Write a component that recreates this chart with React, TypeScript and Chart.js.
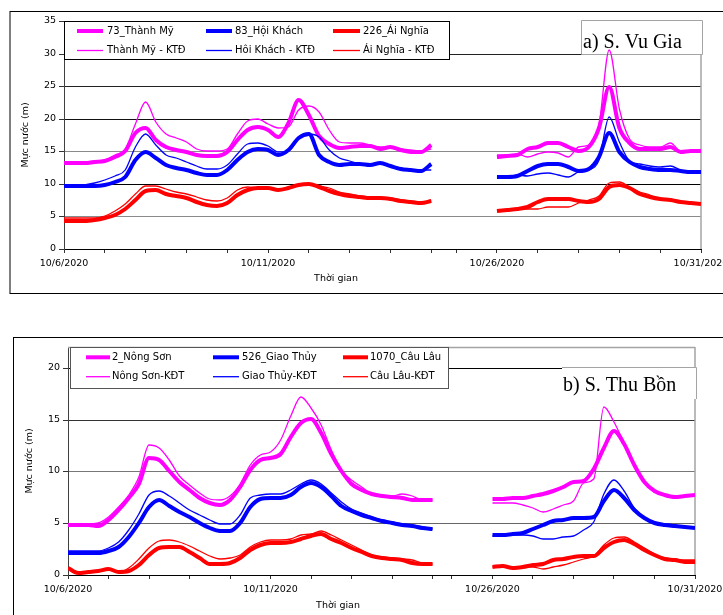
import React, { useEffect, useRef } from "react";
import { Chart, registerables } from "chart.js";

Chart.register(...registerables);

// ---------- sampling times (days) ----------
const LEFT_T = [0, 0.25, 0.5, 0.75, 1, 1.25, 1.5, 1.75, 2, 2.25, 2.5, 2.75, 3, 3.25, 3.5, 3.75, 4, 4.25, 4.5, 4.75, 5, 5.25, 5.5, 5.75, 6, 6.25, 6.5, 6.75, 7, 7.25, 7.5, 7.75, 8, 8.25, 8.5, 8.75, 9];
const RIGHT_T = [0, 0.25, 0.5, 0.75, 1, 1.25, 1.5, 1.75, 2, 2.25, 2.5, 2.75, 3, 3.25, 3.5, 3.75, 4, 4.25, 4.5, 4.75, 5];

// tick positions (days) in each segment
const LEFT_TICKS = [0, 1, 2, 3, 4, 5, 6, 7, 8, 9];
const RIGHT_TICKS = [-1, 0, 1, 2, 3, 4, 5];
const LEFT_DATE_LABELS = ["10/6/2020", "10/11/2020"];
const RIGHT_DATE_LABELS = ["10/26/2020", "10/31/2020"];

// ---------- a) S. Vu Gia ----------
const A_LABELS = ["73_Thành Mỹ", "83_Hội Khách", "226_Ái Nghĩa", "Thành Mỹ - KTĐ", "Hôi Khách - KTĐ", "Ái Nghĩa - KTĐ"];
const A_TM_L = [13.2, 13.2, 13.2, 13.3, 13.5, 14.1, 15.0, 17.8, 18.6, 16.8, 15.6, 15.2, 14.9, 14.5, 14.2, 14.2, 14.9, 16.7, 18.2, 18.8, 18.3, 17.2, 19.3, 22.9, 20.5, 17.4, 16.1, 15.5, 15.7, 15.8, 15.8, 15.4, 15.7, 15.2, 14.9, 14.9, 16.0];
const A_TMK_L = [13.4, 13.4, 13.4, 13.5, 13.7, 14.4, 15.3, 19.2, 22.6, 19.5, 17.6, 17.1, 16.4, 15.3, 15.0, 15.0, 15.4, 17.7, 19.7, 20.0, 19.2, 18.6, 18.8, 21.3, 22.0, 21.0, 18.2, 16.4, 16.2, 16.2, 15.9, 15.7, 15.7, 15.4, 15.2, 15.0, 15.3];
const A_HK_L = [9.6, 9.6, 9.6, 9.7, 9.9, 10.3, 11.0, 13.6, 14.9, 13.9, 12.9, 12.5, 12.1, 11.6, 11.3, 11.3, 12.1, 13.6, 14.9, 15.3, 15.2, 14.4, 15.2, 17.0, 17.6, 14.4, 13.4, 12.9, 13.0, 13.0, 12.9, 13.2, 12.7, 12.3, 12.1, 12.0, 13.0];
const A_HKK_L = [9.7, 9.7, 9.8, 10.1, 10.6, 11.2, 12.1, 15.7, 17.7, 15.9, 14.4, 13.9, 13.4, 12.7, 12.3, 12.3, 12.9, 14.6, 16.1, 16.3, 15.8, 14.9, 15.0, 16.9, 17.7, 17.2, 15.2, 13.9, 13.5, 13.1, 13.0, 13.0, 12.7, 12.5, 12.2, 12.1, 12.1];
const A_AN_L = [4.3, 4.3, 4.3, 4.4, 4.7, 5.2, 6.1, 7.5, 8.9, 9.0, 8.5, 8.1, 7.8, 7.2, 6.7, 6.6, 7.0, 8.3, 9.0, 9.3, 9.3, 9.0, 9.3, 9.8, 10.0, 9.5, 8.9, 8.4, 8.1, 8.0, 7.9, 7.9, 7.6, 7.4, 7.2, 7.1, 7.3];
const A_ANK_L = [4.7, 4.7, 4.7, 4.8, 5.1, 5.9, 6.9, 8.5, 9.6, 9.7, 9.2, 8.8, 8.4, 8.0, 7.5, 7.3, 7.9, 9.1, 9.5, 9.4, 9.4, 9.1, 9.3, 9.8, 10.0, 9.7, 9.3, 8.8, 8.4, 8.2, 8.0, 7.9, 7.8, 7.5, 7.3, 7.2, 7.3];
const A_TM_R = [14.1, 14.2, 14.4, 15.4, 15.7, 16.2, 16.2, 15.7, 15.1, 15.7, 18.5, 24.9, 18.5, 16.3, 15.4, 15.4, 15.4, 15.7, 14.9, 15.0, 15.1];
const A_TMK_R = [14.4, 14.4, 14.6, 14.1, 14.6, 14.9, 14.7, 14.1, 15.6, 15.9, 19.0, 30.5, 21.5, 16.9, 15.9, 15.6, 15.6, 16.2, 15.0, 15.0, 15.1];
const A_HK_R = [11.1, 11.1, 11.2, 12.0, 12.7, 13.0, 13.0, 12.6, 12.0, 12.3, 14.1, 17.8, 14.9, 13.4, 12.6, 12.3, 12.2, 12.2, 12.0, 11.8, 11.8];
const A_HKK_R = [11.1, 11.1, 11.3, 11.2, 11.5, 11.6, 11.3, 11.1, 11.8, 12.2, 13.6, 20.3, 16.5, 13.5, 13.0, 12.7, 12.6, 12.7, 12.1, 11.8, 11.8];
const A_AN_R = [5.9, 6.0, 6.1, 6.5, 7.2, 7.6, 7.7, 7.6, 7.4, 7.2, 7.7, 9.5, 9.8, 9.3, 8.5, 8.0, 7.6, 7.5, 7.2, 7.0, 6.9];
const A_ANK_R = [5.9, 6.0, 6.1, 6.1, 6.2, 6.5, 6.5, 6.5, 7.0, 7.5, 8.2, 10.1, 10.3, 9.5, 8.8, 8.3, 7.7, 7.6, 7.2, 7.0, 6.9];
const A_Y_TICKS = [0, 5, 10, 15, 20, 25, 30, 35];

// ---------- b) S. Thu Bồn ----------
const B_LABELS = ["2_Nông Sơn", "526_Giao Thủy", "1070_Câu Lâu", "Nông Sơn-KĐT", "Giao Thủy-KĐT", "Câu Lâu-KĐT"];
const B_NS_L = [4.8, 4.8, 4.8, 4.7, 5.3, 6.3, 7.4, 8.8, 11.3, 11.1, 10.0, 9.0, 8.2, 7.4, 6.9, 6.8, 7.2, 8.5, 10.1, 11.1, 11.3, 11.7, 13.3, 14.7, 15.1, 13.7, 11.7, 10.0, 8.8, 8.2, 7.8, 7.6, 7.5, 7.4, 7.2, 7.2, 7.2];
const B_NSK_L = [4.8, 4.8, 4.9, 5.0, 5.6, 6.6, 7.7, 9.5, 12.5, 12.3, 11.1, 9.6, 8.7, 7.9, 7.3, 7.2, 7.6, 8.8, 10.6, 11.6, 11.9, 13.0, 15.3, 17.2, 16.1, 14.5, 12.1, 10.1, 9.2, 8.5, 7.8, 7.6, 7.6, 7.8, 7.6, 7.2, 7.2];
const B_GT_L = [2.1, 2.1, 2.1, 2.1, 2.3, 2.7, 3.7, 5.0, 6.6, 7.2, 6.7, 6.1, 5.6, 5.0, 4.5, 4.2, 4.2, 5.0, 6.6, 7.3, 7.4, 7.4, 7.7, 8.5, 8.9, 8.5, 7.6, 6.7, 6.2, 5.8, 5.5, 5.2, 5.0, 4.8, 4.7, 4.5, 4.4];
const B_GTK_L = [2.3, 2.3, 2.3, 2.3, 2.6, 3.2, 4.3, 5.9, 7.7, 8.1, 7.6, 6.9, 6.3, 5.8, 5.3, 4.9, 4.9, 5.8, 7.4, 7.7, 7.8, 7.8, 8.2, 8.8, 9.2, 8.8, 7.9, 7.0, 6.4, 6.0, 5.6, 5.3, 5.1, 4.9, 4.8, 4.6, 4.4];
const B_CL_L = [0.7, 0.15, 0.3, 0.35, 0.6, 0.25, 0.4, 1.0, 1.9, 2.6, 2.75, 2.7, 2.2, 1.6, 1.1, 1.1, 1.2, 1.6, 2.4, 2.9, 3.1, 3.1, 3.2, 3.5, 3.8, 4.0, 3.5, 3.1, 2.6, 2.2, 1.8, 1.6, 1.5, 1.4, 1.2, 1.1, 1.1];
const B_CLK_L = [0.7, 0.2, 0.3, 0.4, 0.6, 0.3, 0.7, 1.5, 2.6, 3.3, 3.4, 3.2, 2.8, 2.3, 1.8, 1.5, 1.6, 1.9, 2.7, 3.2, 3.4, 3.4, 3.5, 3.9, 4.0, 4.2, 3.9, 3.4, 2.9, 2.4, 1.9, 1.7, 1.6, 1.5, 1.4, 1.2, 1.1];
const B_NS_R = [7.3, 7.3, 7.4, 7.4, 7.6, 7.8, 8.1, 8.5, 9.0, 9.1, 10.2, 12.3, 13.9, 12.6, 10.6, 9.0, 8.1, 7.7, 7.5, 7.6, 7.7];
const B_NSK_R = [6.9, 6.9, 6.9, 6.8, 6.5, 6.1, 6.4, 6.8, 7.1, 8.9, 9.3, 16.2, 14.8, 12.7, 10.8, 9.1, 8.1, 7.7, 7.5, 7.6, 7.7];
const B_GT_R = [3.9, 3.9, 4.0, 4.1, 4.4, 4.8, 5.2, 5.3, 5.5, 5.5, 5.6, 7.1, 8.2, 7.4, 6.3, 5.5, 5.0, 4.8, 4.7, 4.6, 4.5];
const B_GTK_R = [3.8, 3.9, 3.9, 3.9, 3.8, 3.5, 3.5, 3.7, 3.8, 4.3, 5.1, 7.8, 9.2, 8.1, 6.5, 5.5, 5.1, 4.9, 4.8, 4.6, 4.5];
const B_CL_R = [0.8, 0.9, 0.7, 0.8, 1.0, 1.1, 1.4, 1.5, 1.7, 1.8, 1.8, 2.6, 3.2, 3.4, 3.0, 2.4, 1.9, 1.5, 1.4, 1.3, 1.3];
const B_CLK_R = [0.8, 0.9, 0.7, 0.8, 0.8, 0.6, 0.8, 1.0, 1.3, 1.5, 1.8, 2.9, 3.6, 3.7, 3.2, 2.6, 2.0, 1.6, 1.5, 1.4, 1.4];
const B_Y_TICKS = [0, 5, 10, 15, 20];

const MAGENTA = "#FF00FF";
const BLUE = "#0000FF";
const RED = "#FF0000";
const FONT = "'DejaVu Sans', sans-serif";

type Series = { label: string; color: string; width: number; left: number[]; right: number[] };

function buildPoints(left: number[], right: number[], rs: number) {
  const pts: { x: number; y: number | null }[] = LEFT_T.map((t, i) => ({ x: t, y: left[i] }));
  pts.push({ x: (9 + rs) / 2, y: null });
  RIGHT_T.forEach((t, i) => pts.push({ x: rs + t, y: right[i] }));
  return pts;
}

const PANEL_A = {
  canvasTop: 0,
  height: 300,
  yMax: 35,
  yTicks: A_Y_TICKS,
  rs: 10.61,
  padTop: 21,
  padRight: 22,
  yWidth: 64,
  xHeight: 51,
  gridColor: { 5: "#8a8a8a", 10: "#000", 15: "#8a8a8a", 20: "#111", 25: "#222", 30: "#222" } as Record<number, string>,
  series: [
    { label: A_LABELS[0], color: MAGENTA, width: 4, left: A_TM_L, right: A_TM_R },
    { label: A_LABELS[1], color: BLUE, width: 4, left: A_HK_L, right: A_HK_R },
    { label: A_LABELS[2], color: RED, width: 4, left: A_AN_L, right: A_AN_R },
    { label: A_LABELS[3], color: MAGENTA, width: 1.3, left: A_TMK_L, right: A_TMK_R },
    { label: A_LABELS[4], color: BLUE, width: 1.3, left: A_HKK_L, right: A_HKK_R },
    { label: A_LABELS[5], color: RED, width: 1.3, left: A_ANK_L, right: A_ANK_R },
  ] as Series[],
  legendBox: { x: 64, y: 21, w: 385, h: 38, color: "#000" },
  legendCols: [
    { x1: 77, x2: 103, tx: 107 },
    { x1: 206, x2: 232, tx: 235 },
    { x1: 333, x2: 360, tx: 363 },
  ],
  legendRows: [31, 50.5],
  titleBox: { x: 581, y: 20, w: 121, h: 34, sides: "all" },
  titleText: "a) S. Vu Gia",
  titlePos: { x: 583, y: 48 },
  frame: { x: 10, y: 11.5, w: 740, h: 282 },
  plotTopBorder: false,
  rightBorderTop: 54,
  yTitle: { x: 26, y: 135 },
  xTitle: { x: 336, y: 279 },
};

const PANEL_B = {
  canvasTop: 300,
  height: 315,
  yMax: 22,
  yTicks: B_Y_TICKS,
  rs: 10.48,
  padTop: 47,
  padRight: 28,
  yWidth: 68,
  xHeight: 40,
  gridColor: { 5: "#666", 10: "#777", 15: "#333", 20: "#000" } as Record<number, string>,
  series: [
    { label: B_LABELS[0], color: MAGENTA, width: 4, left: B_NS_L, right: B_NS_R },
    { label: B_LABELS[1], color: BLUE, width: 4, left: B_GT_L, right: B_GT_R },
    { label: B_LABELS[2], color: RED, width: 4, left: B_CL_L, right: B_CL_R },
    { label: B_LABELS[3], color: MAGENTA, width: 1.3, left: B_NSK_L, right: B_NSK_R },
    { label: B_LABELS[4], color: BLUE, width: 1.3, left: B_GTK_L, right: B_GTK_R },
    { label: B_LABELS[5], color: RED, width: 1.3, left: B_CLK_L, right: B_CLK_R },
  ] as Series[],
  legendBox: { x: 70, y: 47, w: 378, h: 41, color: "#555" },
  legendCols: [
    { x1: 86, x2: 110, tx: 112 },
    { x1: 213, x2: 239, tx: 242 },
    { x1: 343, x2: 368, tx: 370 },
  ],
  legendRows: [57.3, 76.7],
  titleBox: { x: 562, y: 67, w: 134, h: 32, sides: "tr" },
  titleText: "b) S. Thu Bồn",
  titlePos: { x: 563, y: 91 },
  frame: { x: 13.5, y: 37.5, w: 740, h: 400 },
  plotTopBorder: true,
  rightBorderTop: 47,
  yTitle: { x: 30, y: 161 },
  xTitle: { x: 338, y: 305.5 },
};

type PanelCfg = typeof PANEL_A;

function decorPlugin(cfg: PanelCfg) {
  return {
    id: "decor",
    beforeDatasetsDraw(chart: any) {
      const ctx: CanvasRenderingContext2D = chart.ctx;
      const a = chart.chartArea;
      ctx.save();
      // plot-area border (top / right)
      ctx.strokeStyle = "#a4a4a4";
      ctx.lineWidth = 1.5;
      ctx.beginPath();
      if (cfg.plotTopBorder) {
        ctx.moveTo(a.left, a.top + 0.5);
        ctx.lineTo(a.right, a.top + 0.5);
      }
      ctx.moveTo(a.right, cfg.rightBorderTop);
      ctx.lineTo(a.right, a.bottom);
      ctx.stroke();

      // legend
      const lb = cfg.legendBox;
      ctx.fillStyle = "#fff";
      ctx.fillRect(lb.x, lb.y, lb.w, lb.h);
      ctx.strokeStyle = lb.color;
      ctx.lineWidth = 1;
      ctx.strokeRect(lb.x + 0.5, lb.y + 0.5, lb.w, lb.h);
      const ds = chart.data.datasets;
      ds.forEach((d: any, i: number) => {
        const col = cfg.legendCols[i % 3];
        const y = cfg.legendRows[Math.floor(i / 3)];
        ctx.strokeStyle = d.borderColor;
        ctx.lineWidth = d.borderWidth;
        ctx.beginPath();
        ctx.moveTo(col.x1, y);
        ctx.lineTo(col.x2, y);
        ctx.stroke();
        ctx.fillStyle = "#000";
        ctx.font = `10px ${FONT}`;
        ctx.textAlign = "left";
        ctx.textBaseline = "middle";
        ctx.fillText(d.label, col.tx, y);
      });

      // title box
      const tb = cfg.titleBox;
      ctx.fillStyle = "#fff";
      ctx.fillRect(tb.x, tb.y, tb.w, tb.h);
      ctx.strokeStyle = "#a4a4a4";
      ctx.lineWidth = 1;
      ctx.beginPath();
      if (tb.sides === "all") {
        ctx.rect(tb.x + 0.5, tb.y + 0.5, tb.w, tb.h);
      } else {
        ctx.moveTo(tb.x, tb.y + 0.5);
        ctx.lineTo(tb.x + tb.w + 0.5, tb.y + 0.5);
        ctx.lineTo(tb.x + tb.w + 0.5, tb.y + tb.h);
      }
      ctx.stroke();
      ctx.fillStyle = "#000";
      ctx.font = `20px 'Liberation Serif', 'Times New Roman', serif`;
      ctx.textAlign = "left";
      ctx.textBaseline = "alphabetic";
      ctx.fillText(cfg.titleText, cfg.titlePos.x, cfg.titlePos.y);
      ctx.restore();
    },
    afterDraw(chart: any) {
      const ctx: CanvasRenderingContext2D = chart.ctx;
      ctx.save();
      // outer frame
      ctx.strokeStyle = "#000";
      ctx.lineWidth = 1;
      ctx.strokeRect(cfg.frame.x, cfg.frame.y, cfg.frame.w, cfg.frame.h);
      // axis titles
      ctx.fillStyle = "#000";
      ctx.font = `9.5px ${FONT}`;
      ctx.textAlign = "center";
      ctx.textBaseline = "middle";
      ctx.fillText("Thời gian", cfg.xTitle.x, cfg.xTitle.y);
      ctx.translate(cfg.yTitle.x, cfg.yTitle.y);
      ctx.rotate(-Math.PI / 2);
      ctx.fillText("Mực nước (m)", 0, 0);
      ctx.restore();
    },
  };
}

function Panel({ cfg }: { cfg: PanelCfg }) {
  const ref = useRef<HTMLCanvasElement>(null);
  useEffect(() => {
    const canvas = ref.current;
    if (!canvas) return;
    const datasets = cfg.series.map((s) => ({
      label: s.label,
      data: buildPoints(s.left, s.right, cfg.rs),
      borderColor: s.color,
      backgroundColor: s.color,
      borderWidth: s.width,
      pointRadius: 0,
      fill: false,
      spanGaps: false,
      cubicInterpolationMode: "monotone" as const,
      order: s.width > 2 ? 1 : 0,
    }));
    const xTicks = [...LEFT_TICKS, ...RIGHT_TICKS.map((t) => cfg.rs + t)];
    const near = (a: number, b: number) => Math.abs(a - b) < 1e-6;
    const chart = new Chart(canvas, {
      type: "line",
      data: { datasets },
      options: {
        responsive: false,
        animation: false,
        events: [],
        layout: { padding: { top: cfg.padTop, right: cfg.padRight, left: 0, bottom: 0 } },
        plugins: { legend: { display: false }, tooltip: { enabled: false }, title: { display: false } },
        elements: { point: { radius: 0 } },
        scales: {
          x: {
            type: "linear",
            min: 0,
            max: cfg.rs + 5,
            afterBuildTicks: (s: any) => {
              s.ticks = xTicks.map((v) => ({ value: v }));
            },
            afterFit: (s: any) => {
              s.height = cfg.xHeight;
              s.paddingLeft = 0;
              s.paddingRight = 0;
            },
            ticks: {
              autoSkip: false,
              maxRotation: 0,
              minRotation: 0,
              padding: 5,
              color: "#000",
              font: { family: FONT, size: 9.5 },
              callback: (v: any) => {
                if (near(v, 0)) return LEFT_DATE_LABELS[0];
                if (near(v, 5)) return LEFT_DATE_LABELS[1];
                if (near(v, cfg.rs)) return RIGHT_DATE_LABELS[0];
                if (near(v, cfg.rs + 5)) return RIGHT_DATE_LABELS[1];
                return "";
              },
            },
            grid: { drawOnChartArea: false, drawTicks: true, tickLength: 4, tickColor: "#333" },
            border: { display: true, color: "#000", width: 1 },
          },
          y: {
            type: "linear",
            min: 0,
            max: cfg.yMax,
            alignToPixels: true,
            afterBuildTicks: (s: any) => {
              s.ticks = cfg.yTicks.map((v) => ({ value: v }));
            },
            afterFit: (s: any) => {
              s.width = cfg.yWidth;
              s.paddingTop = 0;
              s.paddingBottom = 0;
            },
            ticks: {
              padding: 3,
              color: "#000",
              font: { family: FONT, size: 9.5 },
              callback: (v: any) => String(v),
            },
            grid: {
              color: (c: any) => cfg.gridColor[c.tick?.value] || "rgba(0,0,0,0)",
              tickColor: "#333",
              tickLength: 5,
              drawTicks: true,
            },
            border: { display: true, color: "#404040", width: 1 },
          },
        },
      },
      plugins: [decorPlugin(cfg)],
    } as any);
    return () => chart.destroy();
  }, [cfg]);
  return (
    <canvas
      ref={ref}
      width={723}
      height={cfg.height}
      style={{ position: "absolute", left: 0, top: cfg.canvasTop, width: 723, height: cfg.height }}
    />
  );
}

export default function App() {
  return (
    <div style={{ position: "absolute", left: 0, top: 0, width: 723, height: 615, overflow: "hidden", background: "#fff" }}>
      <Panel cfg={PANEL_A} />
      <Panel cfg={PANEL_B} />
    </div>
  );
}
